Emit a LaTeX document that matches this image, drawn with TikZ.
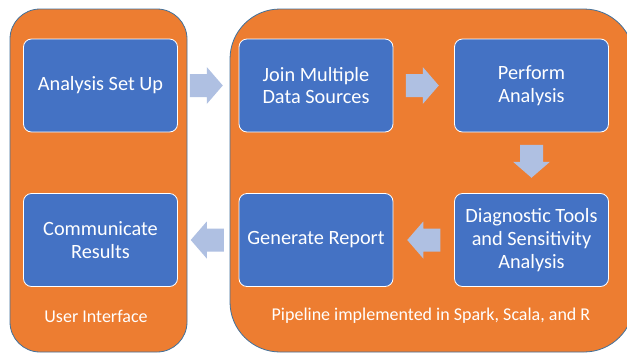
\documentclass[tikz,border=0pt]{standalone}
\usepackage{fontspec}
\setmainfont{Carlito}
\usetikzlibrary{calc}
\definecolor{panelorange}{HTML}{ED7D31}
\definecolor{panelline}{HTML}{41719C}
\definecolor{boxblue}{HTML}{4472C4}
\definecolor{arrowblue}{HTML}{AFC0E2}
\begin{document}
\begin{tikzpicture}[x=1pt,y=-1pt,
  panel/.style={fill=panelorange,draw=panelline,line width=0.8pt},
  stepbox/.style={fill=boxblue,draw=white,line width=0.8pt,rounded corners=8pt,
    minimum width=154pt,minimum height=93pt,inner sep=0pt,align=center,
    text=white,font=\fontsize{20.3}{22.8}\selectfont},
  blockarrow/.pic={\fill[arrowblue] (-16.5,-11.5) -- (0.5,-11.5) -- (0.5,-18.5)
    -- (16.5,0) -- (0.5,18.5) -- (0.5,11.5) -- (-16.5,11.5) -- cycle;},
  paneltext/.style={text=white,font=\fontsize{18}{20}\selectfont}
]
\useasboundingbox (0,0) rectangle (627,354);
\fill[white] (0,0) rectangle (627,354);
\begin{scope}
\clip (0,0) rectangle (627,354);
\draw[panel,rounded corners=30pt] (10,9) rectangle (187,352);
\draw[panel,rounded corners=50pt] (230,9) rectangle (634,352);
\end{scope}
\node[stepbox] (setup) at (100.5,85.5) {Analysis Set Up};
\node[stepbox] (comm) at (100.5,240) {Communicate\\Results};
\node[stepbox] (join) at (316,85.5) {Join Multiple\\Data Sources};
\node[stepbox] (perf) at (531.5,85.5) {Perform\\Analysis};
\node[stepbox] (diag) at (531.5,240) {Diagnostic Tools\\and Sensitivity\\Analysis};
\node[stepbox] (gen) at (316,240) {Generate Report};
\node[paneltext] (ui) at (96,316) {User Interface};
\node[paneltext] (pipe) at (431,316) {Pipeline implemented in Spark, Scala, and R};
\coordinate (c1) at ($(setup.east)!0.5!(join.west)+(-2,0)$);
\coordinate (c2) at ($(join.east)!0.5!(perf.west)+(-1.5,0)$);
\coordinate (c3) at ($(perf.south)!0.5!(diag.north)+(0,-1.5)$);
\coordinate (c4) at ($(diag.west)!0.5!(gen.east)$);
\coordinate (c5) at ($(gen.west)!0.5!(comm.east)+(-1,0)$);
\pic at (c1) {blockarrow};
\pic at (c2) {blockarrow};
\pic[rotate=-90] at (c3) {blockarrow};
\pic[rotate=180] at (c4) {blockarrow};
\pic[rotate=180] at (c5) {blockarrow};
\end{tikzpicture}
\end{document}
